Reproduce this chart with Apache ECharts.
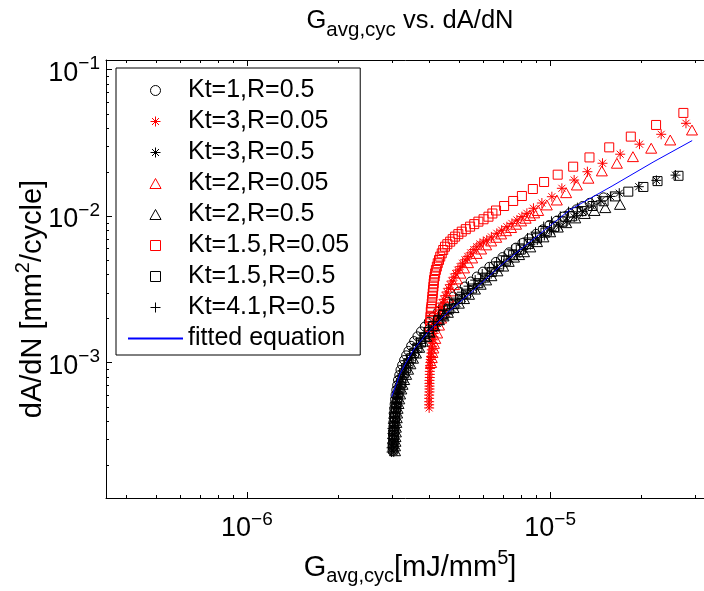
<!DOCTYPE html>
<html>
<head>
<meta charset="utf-8">
<script src="https://cdn.jsdelivr.net/npm/echarts@6/dist/echarts.min.js"></script>
<style>
  html, body { margin: 0; padding: 0; background: #fff; }
  #chart { width: 704px; height: 591px; }
</style>
</head>
<body>
<div id="chart"></div>
<script>
// ---- axis ranges (log10 scales) ----
const X_MIN = 3.43e-7, X_MAX = 3.47e-5;
const Y_MIN = 1.19e-4, Y_MAX = 0.116;

// ---- measured crack-growth data: [G_avg,cyc (mJ/mm^5), dA/dN (mm^2/cycle)] ----
const kt1R05 = [
  [3.02e-6,2.5e-4],[3.02e-6,2.65e-4],[3.02e-6,2.8e-4],[3.03e-6,3.0e-4],[3.03e-6,3.2e-4],[3.03e-6,3.4e-4],
  [3.04e-6,3.65e-4],[3.04e-6,3.9e-4],[3.05e-6,4.2e-4],[3.05e-6,4.5e-4],[3.06e-6,4.85e-4],[3.07e-6,5.2e-4],
  [3.08e-6,5.6e-4],[3.09e-6,6.0e-4],[3.11e-6,6.5e-4],[3.13e-6,7.0e-4],[3.15e-6,7.6e-4],[3.18e-6,8.2e-4],
  [3.21e-6,8.9e-4],[3.25e-6,9.6e-4],[3.3e-6,1.04e-3],[3.35e-6,1.12e-3],[3.41e-6,1.2e-3],[3.48e-6,1.3e-3],
  [3.56e-6,1.4e-3],[3.65e-6,1.51e-3],[3.75e-6,1.63e-3],[3.86e-6,1.76e-3],[3.98e-6,1.9e-3],[4.12e-6,2.05e-3],
  [4.27e-6,2.22e-3],[4.43e-6,2.4e-3],[4.6e-6,2.6e-3],[4.8e-6,2.82e-3],[5.0e-6,3.05e-3],[5.23e-6,3.3e-3],
  [5.47e-6,3.57e-3],[5.73e-6,3.86e-3],[6.0e-6,4.17e-3],[6.3e-6,4.5e-3],[6.62e-6,4.86e-3],[6.96e-6,5.24e-3],
  [7.32e-6,5.65e-3],[7.7e-6,6.08e-3],[8.1e-6,6.54e-3],[8.53e-6,7.03e-3],[8.98e-6,7.55e-3],[9.45e-6,8.1e-3],
  [9.95e-6,8.68e-3],[1.05e-5,9.28e-3],[1.1e-5,9.9e-3],[1.16e-5,1.05e-2],[1.22e-5,1.11e-2],[1.28e-5,1.17e-2],
  [1.35e-5,1.23e-2],[1.42e-5,1.29e-2],[1.5e-5,1.34e-2]
];
const kt3R005 = [
  [3.99e-6,4.9e-4],[3.99e-6,5.15e-4],[3.99e-6,5.4e-4],[3.99e-6,5.7e-4],[3.99e-6,6.0e-4],[4.0e-6,6.3e-4],
  [4.0e-6,6.6e-4],[4.0e-6,6.9e-4],[4.0e-6,7.2e-4],[4.0e-6,7.55e-4],[4.01e-6,7.9e-4],[4.01e-6,8.3e-4],
  [4.01e-6,8.7e-4],[4.02e-6,9.1e-4],[4.02e-6,9.55e-4],[4.03e-6,1.0e-3],[4.04e-6,1.05e-3],[4.05e-6,1.1e-3],
  [4.06e-6,1.16e-3],[4.07e-6,1.22e-3],[4.08e-6,1.29e-3],[4.09e-6,1.36e-3],[4.1e-6,1.43e-3],[4.12e-6,1.5e-3],
  [4.13e-6,1.58e-3],[4.15e-6,1.67e-3],[4.17e-6,1.76e-3],[4.2e-6,1.85e-3],[4.23e-6,1.95e-3],[4.26e-6,2.05e-3],
  [4.29e-6,2.16e-3],[4.33e-6,2.28e-3],[4.37e-6,2.41e-3],[4.41e-6,2.55e-3],[4.46e-6,2.7e-3],[4.51e-6,2.86e-3],
  [4.56e-6,3.03e-3],[4.62e-6,3.21e-3],[4.68e-6,3.4e-3],[4.74e-6,3.6e-3],[4.81e-6,3.82e-3],[4.88e-6,4.04e-3],
  [4.96e-6,4.27e-3],[5.05e-6,4.51e-3],[5.14e-6,4.76e-3],[5.24e-6,5.02e-3],[5.35e-6,5.3e-3],[5.47e-6,5.6e-3],
  [5.6e-6,5.9e-3],[5.73e-6,6.17e-3],[5.87e-6,6.45e-3],[6.02e-6,6.65e-3],[6.18e-6,6.86e-3],[6.4e-6,7.2e-3],
  [6.67e-6,7.62e-3],[6.92e-6,8.0e-3],[7.2e-6,8.45e-3],[7.48e-6,8.9e-3],[7.77e-6,9.39e-3],[8.07e-6,9.9e-3],
  [8.38e-6,1.043e-2],[8.81e-6,1.129e-2],[9.39e-6,1.226e-2],[1.013e-5,1.354e-2],[1.093e-5,1.545e-2],
  [1.2e-5,1.76e-2],[1.327e-5,2.005e-2],[1.488e-5,2.29e-2],[1.702e-5,2.64e-2],[1.971e-5,3.09e-2],
  [2.324e-5,3.61e-2],[2.805e-5,4.29e-2]
];
const kt3R05 = [
  [3.05e-6,2.45e-4],[3.05e-6,2.6e-4],[3.05e-6,2.78e-4],[3.06e-6,2.98e-4],[3.06e-6,3.2e-4],[3.07e-6,3.45e-4],
  [3.07e-6,3.72e-4],[3.08e-6,4.0e-4],[3.09e-6,4.3e-4],[3.1e-6,4.65e-4],[3.11e-6,5.0e-4],[3.12e-6,5.4e-4],
  [3.14e-6,5.85e-4],[3.16e-6,6.3e-4],[3.19e-6,6.8e-4],[3.22e-6,7.35e-4],[3.26e-6,7.95e-4],[3.3e-6,8.6e-4],
  [3.35e-6,9.3e-4],[3.41e-6,1.0e-3],[3.48e-6,1.08e-3],[3.56e-6,1.16e-3],[3.65e-6,1.25e-3],[3.75e-6,1.35e-3],
  [3.86e-6,1.46e-3],[3.98e-6,1.58e-3],[4.11e-6,1.71e-3],[4.25e-6,1.85e-3],[4.4e-6,2.0e-3],[4.56e-6,2.16e-3],
  [4.74e-6,2.34e-3],[4.93e-6,2.53e-3],[5.13e-6,2.74e-3],[5.35e-6,2.96e-3],[5.58e-6,3.2e-3],[5.83e-6,3.46e-3],
  [6.1e-6,3.74e-3],[6.39e-6,4.04e-3],[6.7e-6,4.36e-3],[7.03e-6,4.71e-3],[7.38e-6,5.08e-3],[7.76e-6,5.48e-3],
  [8.16e-6,5.9e-3],[8.6e-6,6.36e-3],[9.07e-6,6.85e-3],[9.57e-6,7.37e-3],[1.01e-5,7.93e-3],[1.07e-5,8.52e-3],
  [1.13e-5,9.15e-3],[1.2e-5,9.85e-3],[1.28e-5,1.07e-2],[1.37e-5,1.17e-2],[1.47e-5,1.27e-2],[1.58e-5,1.36e-2],
  [1.69e-5,1.43e-2],[1.96e-5,1.585e-2],[2.24e-5,1.75e-2],[2.59e-5,1.9e-2]
];
const kt2R005 = [
  [4.05e-6,1.0e-3],[4.07e-6,1.08e-3],[4.09e-6,1.17e-3],[4.12e-6,1.256e-3],[4.14e-6,1.35e-3],[4.18e-6,1.46e-3],
  [4.24e-6,1.59e-3],[4.3e-6,1.8e-3],[4.37e-6,2.01e-3],[4.45e-6,2.25e-3],[4.54e-6,2.51e-3],[4.62e-6,2.79e-3],
  [4.71e-6,3.08e-3],[4.82e-6,3.4e-3],[4.93e-6,3.72e-3],[5.06e-6,4.07e-3],[5.2e-6,4.42e-3],[5.36e-6,4.8e-3],
  [5.53e-6,5.17e-3],[5.72e-6,5.55e-3],[5.92e-6,5.95e-3],[6.15e-6,6.35e-3],[6.39e-6,6.75e-3],[6.64e-6,7.15e-3],
  [6.89e-6,7.54e-3],[7.15e-6,7.93e-3],[7.43e-6,8.34e-3],[7.72e-6,8.78e-3],[8.02e-6,9.25e-3],[8.3e-6,9.65e-3],
  [8.59e-6,1.008e-2],[8.86e-6,1.05e-2],[9.13e-6,1.09e-2],[9.75e-6,1.189e-2],[1.052e-5,1.285e-2],
  [1.129e-5,1.442e-2],[1.225e-5,1.627e-2],[1.337e-5,1.81e-2],[1.481e-5,2.03e-2],[1.66e-5,2.29e-2],
  [1.875e-5,2.54e-2],[2.154e-5,2.9e-2],[2.489e-5,3.3e-2],[2.936e-5,3.86e-2]
];
const kt2R05 = [
  [3.08e-6,2.5e-4],[3.08e-6,2.7e-4],[3.09e-6,2.9e-4],[3.09e-6,3.12e-4],[3.1e-6,3.36e-4],[3.1e-6,3.62e-4],
  [3.11e-6,3.9e-4],[3.12e-6,4.2e-4],[3.13e-6,4.52e-4],[3.14e-6,4.87e-4],[3.16e-6,5.25e-4],[3.18e-6,5.65e-4],
  [3.2e-6,6.1e-4],[3.23e-6,6.6e-4],[3.26e-6,7.1e-4],[3.3e-6,7.65e-4],[3.35e-6,8.3e-4],[3.4e-6,9.0e-4],
  [3.46e-6,9.8e-4],[3.53e-6,1.07e-3],[3.61e-6,1.16e-3],[3.7e-6,1.27e-3],[3.8e-6,1.4e-3],[3.9e-6,1.51e-3],
  [4.0e-6,1.61e-3],[4.15e-6,1.78e-3],[4.3e-6,1.96e-3],[4.45e-6,2.08e-3],[4.6e-6,2.2e-3],[4.8e-6,2.37e-3],
  [5.0e-6,2.54e-3],[5.2e-6,2.73e-3],[5.4e-6,2.92e-3],[5.65e-6,3.17e-3],[5.9e-6,3.42e-3],[6.15e-6,3.66e-3],
  [6.4e-6,3.91e-3],[6.7e-6,4.22e-3],[7.0e-6,4.55e-3],[7.3e-6,4.9e-3],[7.6e-6,5.24e-3],[7.9e-6,5.45e-3],
  [8.2e-6,5.7e-3],[8.6e-6,6.15e-3],[9.05e-6,6.68e-3],[9.5e-6,7.2e-3],[1.0e-5,7.8e-3],[1.06e-5,8.4e-3],
  [1.13e-5,9.0e-3],[1.21e-5,9.7e-3],[1.3e-5,1.04e-2],[1.4e-5,1.09e-2],[1.52e-5,1.14e-2],[1.7e-5,1.2e-2]
];
const kt15R005 = [
  [4.02e-6,1.75e-3],[4.02e-6,1.85e-3],[4.03e-6,1.95e-3],[4.03e-6,2.05e-3],
  [4.04e-6,2.22e-3],[4.05e-6,2.31e-3],[4.06e-6,2.4e-3],[4.07e-6,2.53e-3],[4.08e-6,2.67e-3],[4.09e-6,2.82e-3],
  [4.1e-6,2.97e-3],[4.11e-6,3.13e-3],[4.12e-6,3.29e-3],[4.13e-6,3.47e-3],[4.14e-6,3.66e-3],[4.16e-6,3.86e-3],
  [4.175e-6,4.06e-3],[4.2e-6,4.28e-3],[4.23e-6,4.51e-3],[4.26e-6,4.76e-3],[4.3e-6,5.01e-3],[4.34e-6,5.28e-3],
  [4.39e-6,5.56e-3],[4.44e-6,5.86e-3],[4.5e-6,6.17e-3],[4.58e-6,6.42e-3],[4.68e-6,6.68e-3],[4.77e-6,6.95e-3],
  [4.86e-6,7.23e-3],[4.98e-6,7.52e-3],[5.11e-6,7.82e-3],[5.27e-6,8.13e-3],[5.445e-6,8.46e-3],[5.62e-6,8.8e-3],
  [5.8e-6,9.15e-3],[6.03e-6,9.5e-3],[6.26e-6,9.89e-3],[6.45e-6,1.04e-2],[6.63e-6,1.09e-2],[7.05e-6,1.17e-2],
  [7.55e-6,1.266e-2],[8.07e-6,1.369e-2],[8.77e-6,1.528e-2],[9.55e-6,1.706e-2],[1.059e-5,1.914e-2],
  [1.191e-5,2.17e-2],[1.348e-5,2.51e-2],[1.566e-5,2.94e-2],[1.845e-5,3.48e-2],[2.235e-5,4.18e-2],
  [2.75e-5,5.05e-2]
];
const kt15R05 = [
  [3.04e-6,2.55e-4],[3.04e-6,2.75e-4],[3.05e-6,2.95e-4],[3.05e-6,3.18e-4],[3.06e-6,3.42e-4],[3.06e-6,3.68e-4],
  [3.07e-6,3.96e-4],[3.08e-6,4.26e-4],[3.09e-6,4.58e-4],[3.1e-6,4.92e-4],[3.12e-6,5.3e-4],[3.14e-6,5.72e-4],
  [3.16e-6,6.17e-4],[3.19e-6,6.65e-4],[3.22e-6,7.2e-4],[3.26e-6,7.8e-4],[3.3e-6,8.45e-4],[3.35e-6,9.15e-4],
  [3.41e-6,9.9e-4],[3.48e-6,1.07e-3],[3.56e-6,1.16e-3],[3.65e-6,1.26e-3],[3.75e-6,1.37e-3],[3.86e-6,1.49e-3],
  [3.98e-6,1.62e-3],[4.12e-6,1.77e-3],[4.28e-6,1.94e-3],[4.45e-6,2.12e-3],[4.63e-6,2.3e-3],[4.83e-6,2.5e-3],
  [5.05e-6,2.72e-3],[5.28e-6,2.95e-3],[5.53e-6,3.2e-3],[5.8e-6,3.48e-3],[6.1e-6,3.8e-3],[6.42e-6,4.15e-3],
  [6.77e-6,4.53e-3],[7.15e-6,4.95e-3],[7.55e-6,5.4e-3],[8.0e-6,5.9e-3],[8.5e-6,6.45e-3],[9.05e-6,7.05e-3],
  [9.65e-6,7.7e-3],[1.03e-5,8.4e-3],[1.1e-5,9.15e-3],[1.18e-5,9.95e-3],[1.27e-5,1.08e-2],[1.38e-5,1.17e-2],
  [1.5e-5,1.26e-2],[1.64e-5,1.36e-2],[1.81e-5,1.466e-2],[2.03e-5,1.578e-2],[2.26e-5,1.73e-2],[2.65e-5,1.88e-2]
];
const kt41R05 = [
  [3.0e-6,2.45e-4],[3.0e-6,2.62e-4],[3.01e-6,2.82e-4],[3.01e-6,3.04e-4],[3.02e-6,3.28e-4],[3.02e-6,3.55e-4],
  [3.03e-6,3.85e-4],[3.04e-6,4.17e-4],[3.05e-6,4.52e-4],[3.06e-6,4.9e-4],[3.08e-6,5.32e-4],[3.1e-6,5.78e-4],
  [3.12e-6,6.28e-4],[3.15e-6,6.82e-4],[3.18e-6,7.4e-4],[3.22e-6,8.05e-4],[3.27e-6,8.75e-4],[3.32e-6,9.5e-4],
  [3.38e-6,1.03e-3],[3.45e-6,1.12e-3],[3.53e-6,1.22e-3],[3.62e-6,1.33e-3],[3.72e-6,1.45e-3],[3.84e-6,1.58e-3],
  [3.97e-6,1.73e-3],[4.12e-6,1.9e-3],[4.28e-6,2.08e-3],[4.46e-6,2.28e-3],[4.66e-6,2.5e-3],[4.88e-6,2.75e-3],
  [5.12e-6,3.02e-3],[5.38e-6,3.32e-3],[5.66e-6,3.65e-3],[5.97e-6,4.02e-3],[6.3e-6,4.42e-3],[6.66e-6,4.86e-3],
  [7.05e-6,5.35e-3],[7.47e-6,5.88e-3],[7.93e-6,6.45e-3],[8.42e-6,7.08e-3],[8.95e-6,7.75e-3],[9.52e-6,8.47e-3],
  [1.01e-5,9.2e-3],[1.08e-5,9.95e-3],[1.15e-5,1.07e-2],[1.23e-5,1.14e-2]
];
// fitted growth-rate law, evaluated over the tested G range
const fitG    = [3.0e-6, 3.1e-6, 3.2e-6, 3.35e-6, 3.54e-6, 3.92e-6, 4.56e-6, 5.45e-6, 7.0e-6, 9.0e-6, 1.16e-5, 1.6e-5, 2.2e-5, 2.94e-5];
const fitRate = [5.85e-4, 7.0e-4, 8.4e-4, 1.0e-3, 1.22e-3, 1.58e-3, 2.17e-3, 2.97e-3, 4.75e-3, 7.2e-3, 1.10e-2, 1.6e-2, 2.35e-2, 3.27e-2];

const seriesNames = ['Kt=1,R=0.5','Kt=3,R=0.05','Kt=3,R=0.5','Kt=2,R=0.05','Kt=2,R=0.5','Kt=1.5,R=0.05','Kt=1.5,R=0.5','Kt=4.1,R=0.5','fitted equation'];

// minor tick positions (2..9 x 10^k) inside the axis ranges
const X_MINOR = [], Y_MINOR = [];
for (let k = -7; k <= -5; k++) for (let m = 2; m <= 9; m++) {
  const v = m * Math.pow(10, k);
  if (v > X_MIN && v < X_MAX) X_MINOR.push(v);
}
for (let k = -4; k <= -2; k++) for (let m = 2; m <= 9; m++) {
  const v = m * Math.pow(10, k);
  if (v > Y_MIN && v < Y_MAX) Y_MINOR.push(v);
}

const FONT = '"Liberation Sans", Arial, Helvetica, sans-serif';
const MAJOR_LEN = 6, MINOR_LEN = 3;

// outline marker shapes
const ASTERISK = 'path://M5 0 L5 10 M0 5 L10 5 M1.5 1.5 L8.5 8.5 M1.5 8.5 L8.5 1.5';
const PLUS = 'path://M5 0 L5 10 M0 5 L10 5';
const TRIANGLE = 'path://M5 0 L10 9 L0 9 Z';
const SQUARE = 'path://M0 0 L10 0 L10 10 L0 10 Z';

function markerSeries(name, data, symbol, size, color) {
  return {
    type: 'scatter', name, data, symbol, symbolSize: size, symbolKeepAspect: true,
    itemStyle: { color: 'none', borderColor: color, borderWidth: 1, opacity: 1 },
    emphasis: { disabled: true }, z: 2
  };
}

function powLabel(v) {
  const e = Math.log10(v), r = Math.round(e);
  if (Math.abs(e - r) > 1e-6) return '';
  return '{g|10}{p|' + (r < 0 ? '\u2212' : '') + Math.abs(r) + '}';
}

const minorData = [];
X_MINOR.forEach(v => minorData.push([v, Y_MIN, 0]));
Y_MINOR.forEach(v => minorData.push([X_MIN, v, 1]));

const txt = { fontFamily: FONT, color: '#000' };

const legendData = seriesNames.map((n, i) => i === 8
  ? { name: n, itemStyle: { color: 'transparent', borderColor: 'transparent', borderWidth: 0, opacity: 0 } }
  : { name: n });

const chart = echarts.init(document.getElementById('chart'), null, { renderer: 'canvas' });
chart.setOption({
  animation: false,
  backgroundColor: '#fff',
  title: {
    text: '{g|G}{s|avg,cyc}{g| vs. dA/dN}',
    left: 410, top: 0, textAlign: 'center', padding: 0,
    textStyle: {
      fontFamily: FONT, fontWeight: 'normal', fontSize: 25.5, color: '#000',
      rich: {
        g: Object.assign({ fontSize: 25.5 }, txt),
        s: Object.assign({ fontSize: 20.5, padding: [20, 0, 0, 0] }, txt)
      }
    }
  },
  legend: {
    orient: 'vertical', left: 116, top: 68,
    itemWidth: 55, itemHeight: 10, itemGap: 6,
    padding: [10, 11, 4, 11],
    backgroundColor: '#fff', borderColor: '#000', borderWidth: 1, borderRadius: 0,
    textStyle: { fontFamily: FONT, fontSize: 25, color: '#000', lineHeight: 25 },
    itemStyle: { borderWidth: 1 },
    symbolKeepAspect: true,
    selectedMode: false,
    data: legendData
  },
  grid: { left: 106, top: 60, right: -10, bottom: 93, containLabel: false, outerBoundsMode: 'none' },
  xAxis: [
    {
      type: 'log', logBase: 10, min: X_MIN, max: X_MAX, position: 'bottom',
      axisLine: { show: true, onZero: false, lineStyle: { color: '#000', width: 1 } },
      axisTick: { show: true, inside: true, length: MAJOR_LEN, lineStyle: { color: '#000' } },
      splitLine: { show: false }, minorTick: { show: false },
      axisLabel: {
        formatter: powLabel, margin: 12, showMinLabel: false, showMaxLabel: false, hideOverlap: false,
        fontFamily: FONT, fontSize: 27, color: '#000',
        rich: {
          g: Object.assign({ fontSize: 27 }, txt),
          p: Object.assign({ fontSize: 19, padding: [0, 0, 19, 0] }, txt)
        }
      },
      name: '{g|G}{s|avg,cyc}{g|[mJ/mm}{p|5}{g|]}',
      nameLocation: 'middle', nameGap: 50, nameMoveOverlap: false,
      nameTextStyle: {
        fontFamily: FONT, fontSize: 29, color: '#000',
        rich: {
          g: Object.assign({ fontSize: 29 }, txt),
          s: Object.assign({ fontSize: 20, padding: [18, 0, 0, 0] }, txt),
          p: Object.assign({ fontSize: 20, padding: [0, 0, 19, 0] }, txt)
        }
      }
    },
    {
      type: 'log', logBase: 10, min: X_MIN, max: X_MAX, position: 'top',
      axisLine: { show: true, onZero: false, lineStyle: { color: '#000', width: 1 } },
      axisTick: { show: true, inside: true, length: MAJOR_LEN, lineStyle: { color: '#000' } },
      axisLabel: { show: false }, splitLine: { show: false }
    }
  ],
  yAxis: [
    {
      type: 'log', logBase: 10, min: Y_MIN, max: Y_MAX, position: 'left',
      axisLine: { show: true, onZero: false, lineStyle: { color: '#000', width: 1 } },
      axisTick: { show: true, inside: true, length: MAJOR_LEN, lineStyle: { color: '#000' } },
      splitLine: { show: false }, minorTick: { show: false },
      axisLabel: {
        formatter: powLabel, margin: 6, showMinLabel: false, showMaxLabel: false, hideOverlap: false,
        fontFamily: FONT, fontSize: 27, color: '#000',
        rich: {
          g: Object.assign({ fontSize: 27, padding: [8, 0, 0, 0] }, txt),
          p: Object.assign({ fontSize: 19, padding: [0, 0, 11, 0] }, txt)
        }
      },
      name: '{g|dA/dN [mm}{p|2}{g|/cycle]}',
      nameLocation: 'middle', nameGap: 54, nameRotate: 90, nameMoveOverlap: false,
      nameTextStyle: {
        fontFamily: FONT, fontSize: 29, color: '#000', padding: [0, 40, 0, 0],
        rich: {
          g: Object.assign({ fontSize: 29 }, txt),
          p: Object.assign({ fontSize: 20, padding: [0, 0, 19, 0] }, txt)
        }
      }
    }
  ],
  series: [
    markerSeries(seriesNames[0], kt1R05, 'circle', 9, '#000000'),
    markerSeries(seriesNames[1], kt3R005, ASTERISK, 10, '#ff0000'),
    markerSeries(seriesNames[2], kt3R05, ASTERISK, 10, '#000000'),
    markerSeries(seriesNames[3], kt2R005, TRIANGLE, 11, '#ff0000'),
    markerSeries(seriesNames[4], kt2R05, TRIANGLE, 11, '#000000'),
    markerSeries(seriesNames[5], kt15R005, SQUARE, 9, '#ff0000'),
    markerSeries(seriesNames[6], kt15R05, SQUARE, 9, '#000000'),
    markerSeries(seriesNames[7], kt41R05, PLUS, 10, '#000000'),
    {
      type: 'line', name: seriesNames[8],
      data: fitG.map((g, i) => [g, fitRate[i]]),
      symbol: 'none', showSymbol: false, smooth: false,
      lineStyle: { color: '#0000ff', width: 1 },
      itemStyle: { color: '#0000ff' },
      emphasis: { disabled: true }, z: 3
    },
    {
      // minor tick marks at 2..9 x 10^k on the bottom, top and left edges
      type: 'custom', coordinateSystem: 'cartesian2d', silent: true, clip: false, z: 5,
      data: minorData, encode: { x: 0, y: 1 },
      renderItem(params, api) {
        const st = { stroke: '#000', lineWidth: 1 };
        if (api.value(2) === 0) {
          const b = api.coord([api.value(0), Y_MIN]);
          const t = api.coord([api.value(0), Y_MAX]);
          const x = Math.round(b[0]) + 0.5;
          return { type: 'group', children: [
            { type: 'line', shape: { x1: x, y1: b[1], x2: x, y2: b[1] - MINOR_LEN }, style: st },
            { type: 'line', shape: { x1: x, y1: t[1], x2: x, y2: t[1] + MINOR_LEN }, style: st }
          ] };
        }
        const l = api.coord([X_MIN, api.value(1)]);
        const y = Math.round(l[1]) + 0.5;
        return { type: 'line', shape: { x1: l[0], y1: y, x2: l[0] + MINOR_LEN, y2: y }, style: st };
      }
    }
  ]
});
</script>
</body>
</html>
